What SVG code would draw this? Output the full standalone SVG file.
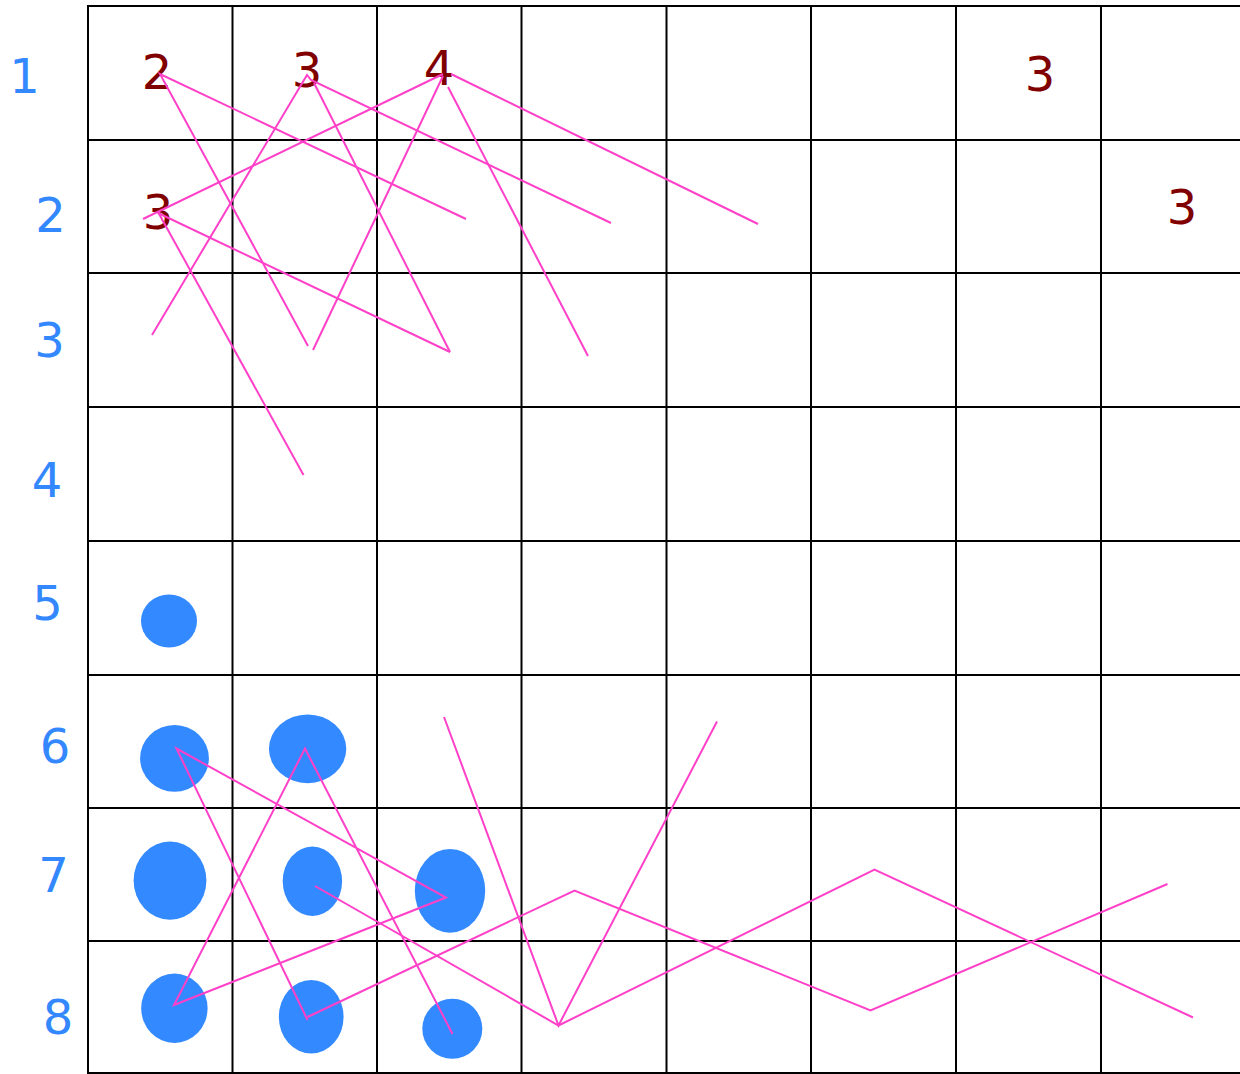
<svg xmlns="http://www.w3.org/2000/svg" width="1240" height="1074" viewBox="0 0 1240 1074">
<style>
.grid line{stroke:#000;stroke-width:2}
.rl{font-family:"DejaVu Sans",Verdana,sans-serif;font-size:48px;fill:#3388ff;text-anchor:middle}
.num{font-family:"DejaVu Sans",Verdana,sans-serif;font-size:48px;fill:#800000;text-anchor:middle}
.dot{fill:#3389ff}
.conn line,.conn polyline{stroke:#ff40c8;stroke-width:2;fill:none}
</style>
<rect width="1240" height="1074" fill="#fff"/>
<g id="grid" class="grid">
<line x1="88" y1="5" x2="88" y2="1074"/>
<line x1="232.5" y1="5" x2="232.5" y2="1074"/>
<line x1="377" y1="5" x2="377" y2="1074"/>
<line x1="521.5" y1="5" x2="521.5" y2="1074"/>
<line x1="666.5" y1="5" x2="666.5" y2="1074"/>
<line x1="811" y1="5" x2="811" y2="1074"/>
<line x1="956" y1="5" x2="956" y2="1074"/>
<line x1="1101" y1="5" x2="1101" y2="1074"/>
<line x1="87" y1="6" x2="1240" y2="6"/>
<line x1="87" y1="140" x2="1240" y2="140"/>
<line x1="87" y1="273" x2="1240" y2="273"/>
<line x1="87" y1="407" x2="1240" y2="407"/>
<line x1="87" y1="541" x2="1240" y2="541"/>
<line x1="87" y1="675" x2="1240" y2="675"/>
<line x1="87" y1="808" x2="1240" y2="808"/>
<line x1="87" y1="941" x2="1240" y2="941"/>
<line x1="87" y1="1073" x2="1240" y2="1073"/>
</g>
<g id="row-labels">
<text class="rl" x="24.5" y="93">1</text>
<text class="rl" x="50.5" y="232">2</text>
<text class="rl" x="49.5" y="357">3</text>
<text class="rl" x="47" y="497">4</text>
<text class="rl" x="47.5" y="620">5</text>
<text class="rl" x="55" y="763">6</text>
<text class="rl" x="53.5" y="892">7</text>
<text class="rl" x="58" y="1034">8</text>
</g>
<g id="n-r1c1"><text class="num" x="157" y="89">2</text></g>
<g id="n-r1c2"><text class="num" x="307" y="87">3</text></g>
<g id="n-r1c3"><text class="num" x="439" y="85">4</text></g>
<g id="n-r2c1"><text class="num" x="158" y="229">3</text></g>
<g id="n-r1c7"><text class="num" x="1040" y="91">3</text></g>
<g id="n-r2c8"><text class="num" x="1182" y="224">3</text></g>
<g id="d-r5c1"><ellipse class="dot" cx="169" cy="621" rx="28" ry="26.6"/></g>
<g id="d-r6c1"><ellipse class="dot" cx="174.5" cy="758.3" rx="34.4" ry="33.4"/></g>
<g id="d-r6c2"><ellipse class="dot" cx="307.6" cy="748.8" rx="38.7" ry="34.4"/></g>
<g id="d-r7c1"><ellipse class="dot" cx="170" cy="880.6" rx="36.4" ry="39.2"/></g>
<g id="d-r7c2"><ellipse class="dot" cx="312.4" cy="881.3" rx="29.7" ry="34.7"/></g>
<g id="d-r7c3"><ellipse class="dot" cx="450" cy="890.8" rx="35.2" ry="41.9"/></g>
<g id="d-r8c1"><ellipse class="dot" cx="174.4" cy="1008.3" rx="33.2" ry="34.7"/></g>
<g id="d-r8c2"><ellipse class="dot" cx="311.2" cy="1016.8" rx="32.4" ry="36.8"/></g>
<g id="d-r8c3"><ellipse class="dot" cx="452.3" cy="1028.8" rx="30" ry="30"/></g>
<g id="connectors" class="conn">
<polyline points="466,219 160,74 308,346"/>
<polyline points="152,335 307,75 311,80 611,223"/>
<line x1="314" y1="83" x2="450" y2="352"/>
<line x1="443" y1="74" x2="143" y2="219"/>
<line x1="443" y1="76" x2="313" y2="350"/>
<line x1="448" y1="87" x2="588" y2="356"/>
<line x1="451" y1="74" x2="758" y2="224"/>
<line x1="158" y1="213" x2="450" y2="352"/>
<line x1="158" y1="212" x2="303.5" y2="475"/>
<polyline points="452.5,1034 305,748.5 174,1005 446,897.5 176.5,748.5 307.5,1020"/>
<polyline points="307.5,1017 574.5,890.5 870.5,1010.5 1167.5,884"/>
<polyline points="444,717 558.5,1025.5 717,721.5"/>
<polyline points="315,886 558.5,1025.5 874.5,869.5 1193,1017.5"/>
</g>
</svg>
